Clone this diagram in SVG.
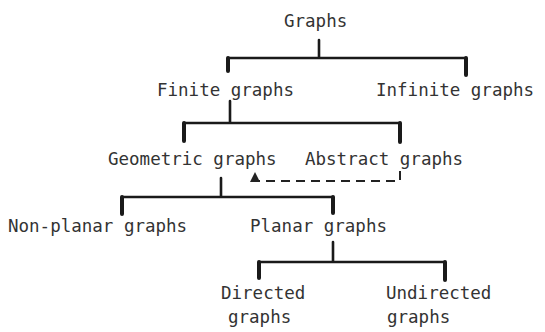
<svg xmlns="http://www.w3.org/2000/svg" width="545" height="332" viewBox="0 0 545 332">
  <defs>
    <style>
      .label { font-family: "DejaVu Sans Mono", "Liberation Mono", monospace; font-size: 17.5px; fill: #333; }
      .tree { stroke: #1a1a1a; stroke-width: 2.6; fill: none; stroke-linecap: round; stroke-linejoin: round; }
      .stub { stroke: #1a1a1a; stroke-width: 4; fill: none; stroke-linecap: round; }
      .dash { stroke: #222; stroke-width: 2; fill: none; stroke-dasharray: 9 6; }
    </style>
    <marker id="arrow" viewBox="0 0 8 8" refX="4" refY="4" markerWidth="5" markerHeight="5" orient="auto">
      <path d="M0,0 L8,4 L0,8 z" fill="#222"/>
    </marker>
  </defs>
  <rect width="545" height="332" fill="#fff"/>

  <g id="connectors">
    <!-- Graphs -> Finite / Infinite -->
    <path class="tree" d="M319,40 V58 M228,58 H466"/>
    <path class="stub" d="M228,58 V71 M466,58 V75"/>
    <!-- Finite -> Geometric / Abstract -->
    <path class="tree" d="M230,101 V123 M184,123 H400"/>
    <path class="stub" d="M184,123 V141 M400,123 V142"/>
    <!-- Abstract -> Geometric (dashed) -->
    <path class="dash" d="M400,171 V181 H255 V177" marker-end="url(#arrow)"/>
    <!-- Geometric -> Non-planar / Planar -->
    <path class="tree" d="M221,178 V197 M122,197 H333"/>
    <path class="stub" d="M122,197 V214 M333,197 V213"/>
    <!-- Planar -> Directed / Undirected -->
    <path class="tree" d="M333,242 V262 M259,262 H445"/>
    <path class="stub" d="M259,262 V278 M445,262 V280"/>
  </g>

  <g id="graphs"><text class="label" x="284" y="27">Graphs</text></g>
  <g id="finite"><text class="label" x="157" y="96">Finite graphs</text></g>
  <g id="infinite"><text class="label" x="376" y="96">Infinite graphs</text></g>
  <g id="geometric"><text class="label" x="108" y="165">Geometric graphs</text></g>
  <g id="abstract"><text class="label" x="305" y="165">Abstract graphs</text></g>
  <g id="nonplanar"><text class="label" x="8" y="232">Non-planar graphs</text></g>
  <g id="planar"><text class="label" x="250" y="232">Planar graphs</text></g>
  <g id="directed">
    <text class="label" x="221" y="299">Directed</text>
    <text class="label" x="228" y="323">graphs</text>
  </g>
  <g id="undirected">
    <text class="label" x="386" y="299">Undirected</text>
    <text class="label" x="387" y="323">graphs</text>
  </g>
</svg>
